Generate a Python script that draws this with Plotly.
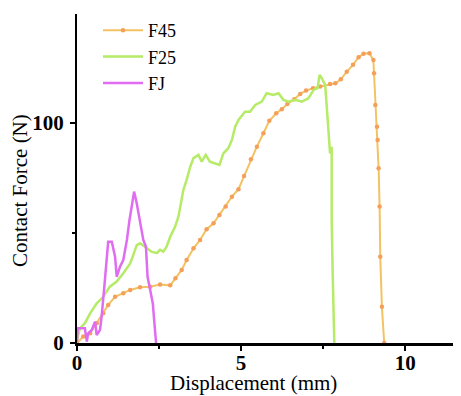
import plotly.graph_objects as go

# F45 series
f45_x = [0, 0.19, 0.4, 0.6, 0.8, 0.95, 1.16, 1.41, 1.62, 1.92, 2.23, 2.53, 2.84, 3.0, 3.19, 3.34,
         3.55, 3.75, 3.95, 4.16, 4.34, 4.53, 4.72, 4.92, 5.09, 5.3, 5.48, 5.68, 5.86, 6.07, 6.24,
         6.41, 6.62, 6.8, 6.98, 7.19, 7.41, 7.71, 7.87, 8.04, 8.22, 8.41, 8.58, 8.73, 8.91, 9.03,
         9.05, 9.09, 9.14, 9.16, 9.19, 9.22, 9.24, 9.29, 9.36]
f45_y = [0, 2.9, 4.4, 9, 13.5, 17.3, 21, 22.6, 24.1, 25.3, 25.6, 26.6, 26.2, 29.4, 33.2, 37.7,
         43, 46.8, 51.7, 54.4, 58.2, 62, 66.5, 69.9, 75.9, 83.5, 89.2, 95.3, 101, 104.4, 106.2,
         108.6, 110.8, 113.2, 114.7, 115.8, 116.5, 117.7, 118, 119.8, 123.3, 126.4, 129.9, 131.4, 131.7, 128.6,
         122.6, 108.2, 98.3, 92.3, 79.4, 62, 39.2, 16.5, 0]

# F25 series
f25_x = [0, 0.09, 0.24, 0.4, 0.6, 0.8, 1.0, 1.21, 1.41, 1.62, 1.77, 1.82, 1.92, 2.07, 2.27, 2.43,
         2.53, 2.63, 2.73, 2.84, 2.99, 3.09, 3.14, 3.24, 3.34, 3.45, 3.55, 3.70, 3.80, 3.92, 4.05,
         4.21, 4.34, 4.46, 4.61, 4.72, 4.82, 4.92, 5.12, 5.27, 5.43, 5.63, 5.78, 5.98, 6.14, 6.29,
         6.44, 6.65, 6.85, 7.05, 7.21, 7.33, 7.39, 7.46, 7.56, 7.61, 7.66, 7.71, 7.76, 7.76, 7.79, 7.84]
f25_y = [1.4, 6.7, 9, 13.5, 18, 21, 25.6, 27.9, 31.7, 36.2, 42.3, 44.5, 45.3, 43.8, 41.5, 40.8,
         42.3, 41.5, 43.8, 48.3, 52.9, 57.4, 62, 69.5, 74.1, 80.1, 84, 85.5, 82.4, 85.5, 82.4,
         81.7, 80.9, 86.2, 88.5, 92.3, 98.3, 101.4, 105.1, 105.1, 108.2, 109.7, 113.5, 112.7, 113.5, 110.5,
         109.7, 110.5, 109.7, 111.2, 115, 115.8, 121.8, 120.3, 117.3, 107.4, 93.8, 86.2, 89.2, 55.9, 31.7, 0]

# FJ series
fj_x = [0, 0.02, 0.24, 0.3, 0.34, 0.45, 0.55, 0.6, 0.7, 0.75, 0.85, 0.95, 1.06, 1.16, 1.21,
        1.31, 1.41, 1.52, 1.6, 1.67, 1.74, 1.82, 1.92, 2.02, 2.1, 2.15, 2.23, 2.31, 2.35, 2.41]
fj_y = [0.6, 6.7, 6.7, 0.6, 4.4, 5.9, 9.7, 3.6, 5.9, 12, 28.6, 46, 46, 39.2, 30.1,
        34.7, 37.7, 46.8, 55.9, 62, 68.8, 63.5, 54.4, 46.8, 43.8, 30.1, 24.1, 18, 10.5, 0]

x_tick_vals = [0, 5, 10]
y_tick_vals = [0, 100]

FONT = "Liberation Serif"

fig = go.Figure()
fig.add_trace(go.Scatter(x=f45_x, y=f45_y, name="F45", mode="lines+markers",
                         line=dict(color="#F3C262", width=2),
                         marker=dict(color="#F5A05A", size=4.5)))
fig.add_trace(go.Scatter(x=f25_x, y=f25_y, name="F25", mode="lines",
                         line=dict(color="#B5EB66", width=2.5)))
fig.add_trace(go.Scatter(x=fj_x, y=fj_y, name="FJ", mode="lines",
                         line=dict(color="#E06CF2", width=2.5)))

axis_common = dict(showgrid=False, zeroline=False, showline=True, linecolor="black",
                   ticks="outside", tickcolor="black", ticklen=5, tickwidth=2, automargin=False,
                   tickfont=dict(family=FONT, size=21, color="black", weight="bold"))

fig.update_xaxes(range=[0, 11.7], tickvals=x_tick_vals, linewidth=3, ticklabelstandoff=-6,
                 minor=dict(ticks="outside", dtick=2.5, ticklen=3, tickwidth=1.5, tickcolor="black"),
                 **axis_common)
fig.update_yaxes(range=[0, 149.5], tickvals=y_tick_vals, linewidth=2, ticklabelstandoff=2,
                 minor=dict(ticks="outside", dtick=50, ticklen=3, tickwidth=1.5, tickcolor="black"),
                 **axis_common)

# page body adds an 8px offset; figure coordinates below are screen coords minus 8
OFF = 8
W, H = 461 - OFF, 396 - OFF
L, R, T, B = 77 - OFF, 0, 14 - OFF, 53
pw, ph = W - L - R, H - T - B

def px(xs):
    return (xs - OFF - L) / pw

def py(ys):
    return (H - B - (ys - OFF)) / ph

fig.add_annotation(text="Displacement (mm)", x=px(253), y=py(383),
                   xref="paper", yref="paper", showarrow=False,
                   xanchor="center", yanchor="middle",
                   font=dict(family=FONT, size=21, color="black"))
fig.add_annotation(text="Contact Force (N)", x=px(20), y=py(191),
                   xref="paper", yref="paper", textangle=-90, showarrow=False,
                   xanchor="center", yanchor="middle",
                   font=dict(family=FONT, size=21, color="black"))

fig.update_layout(
    width=W, height=H,
    margin=dict(l=L, r=R, t=T, b=B, autoexpand=False),
    plot_bgcolor="white", paper_bgcolor="white",
    legend=dict(x=px(98), y=py(12), xanchor="left", yanchor="top",
                bgcolor="rgba(0,0,0,0)",
                font=dict(family=FONT, size=18, color="black"), tracegroupgap=0, itemwidth=40),
    showlegend=True,
)

fig.write_html("out.html")
